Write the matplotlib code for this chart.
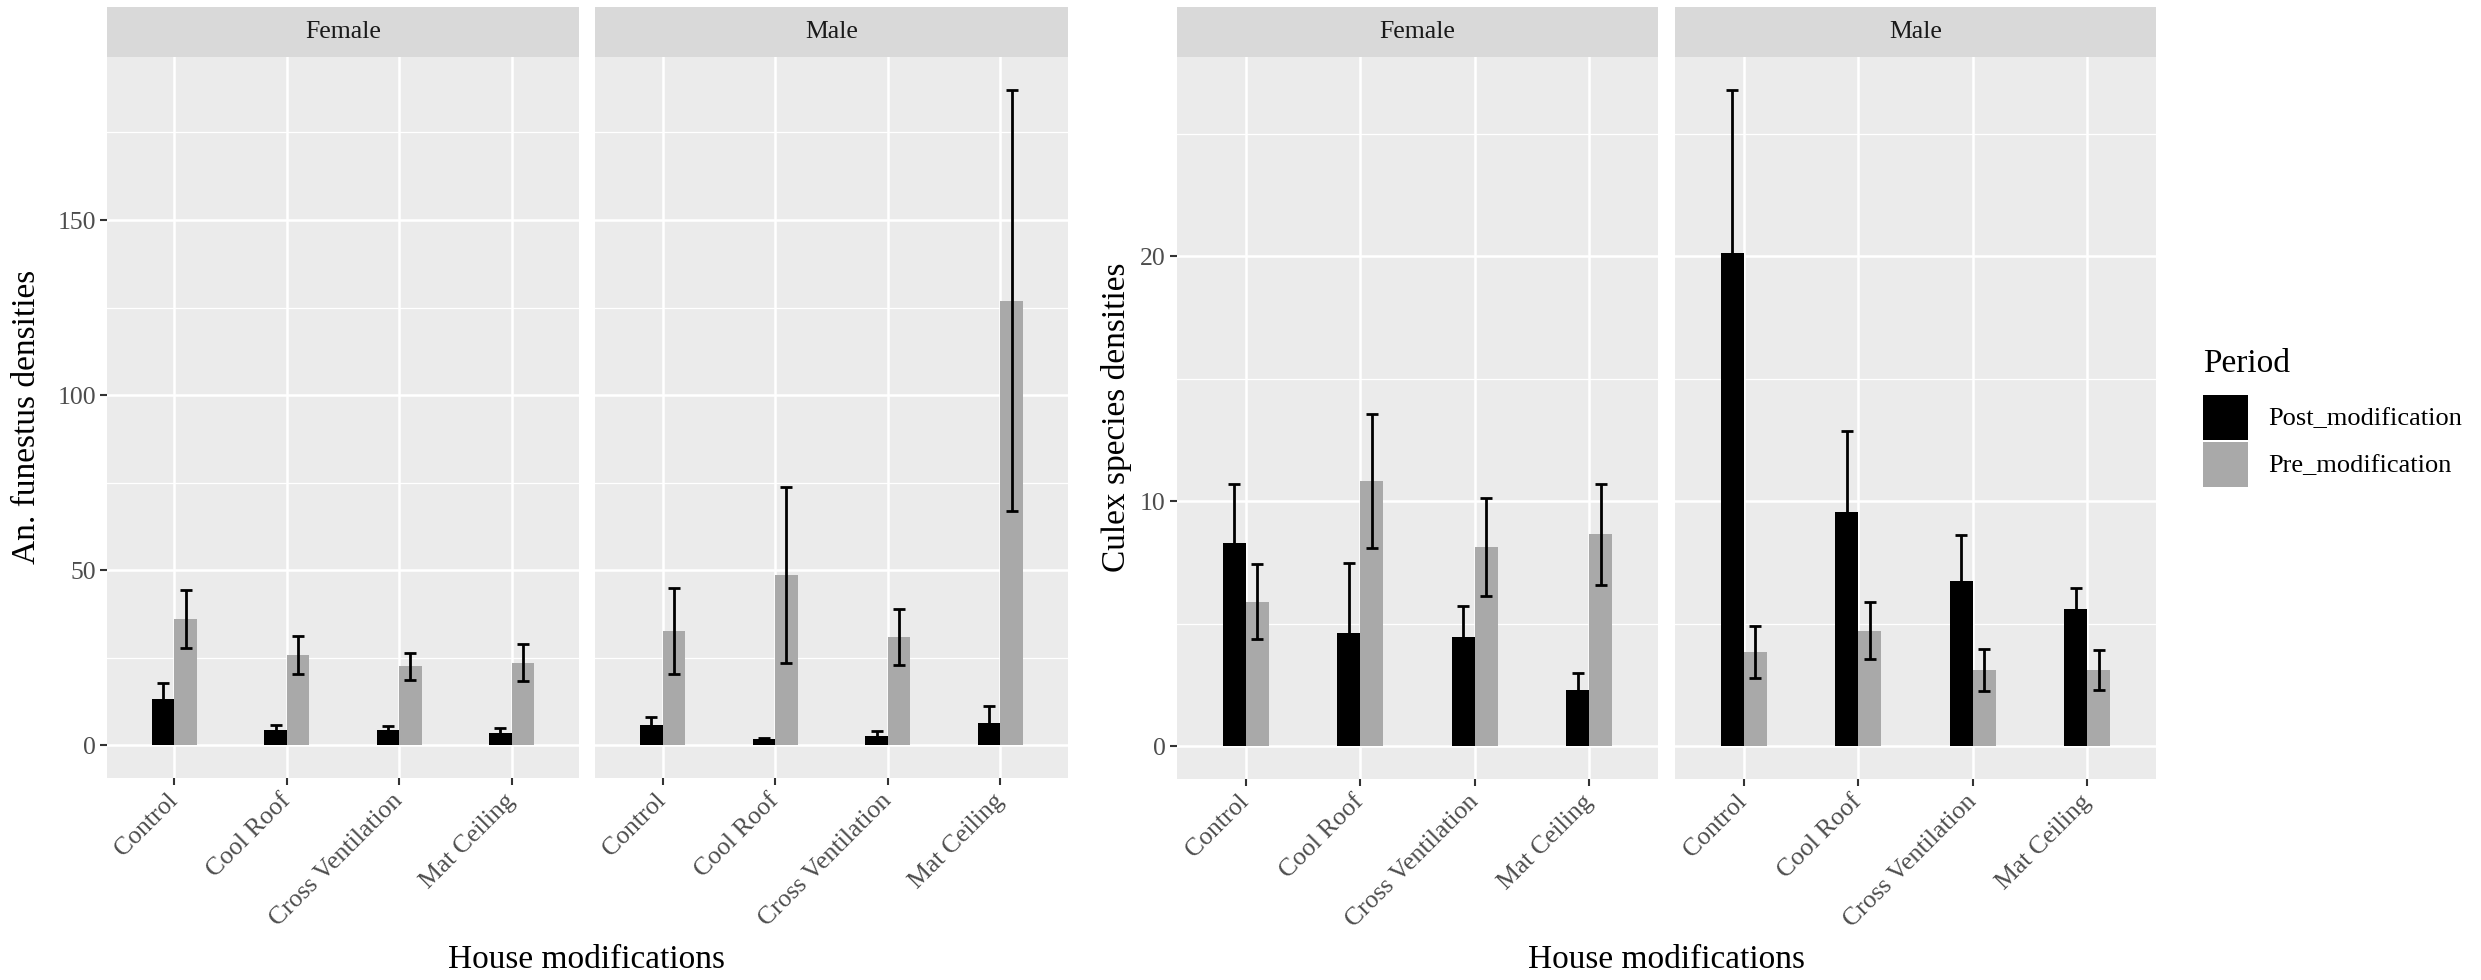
import numpy as np
import matplotlib
matplotlib.use("Agg")
import matplotlib.pyplot as plt
from matplotlib.patches import Rectangle

plt.rcParams["font.family"] = ["Liberation Serif", "DejaVu Serif"]

# ---- data -------------------------------------------------------------
categories = ["Control", "Cool Roof", "Cross Ventilation", "Mat Ceiling"]
sexes = ["Female", "Male"]
periods = ["Post_modification", "Pre_modification"]

# An. funestus densities (mean and standard error)
fun_female_post = [13.1, 4.3, 4.3, 3.6]
fun_female_post_se = [4.6, 1.4, 1.2, 1.4]
fun_female_pre = [36.0, 25.7, 22.5, 23.6]
fun_female_pre_se = [8.3, 5.5, 3.8, 5.3]
fun_male_post = [5.7, 1.7, 2.5, 6.3]
fun_male_post_se = [2.3, 0.4, 1.5, 4.8]
fun_male_pre = [32.6, 48.6, 30.9, 127.0]
fun_male_pre_se = [12.3, 25.2, 7.9, 60.2]

# Culex species densities (mean and standard error)
cx_female_post = [8.28, 4.64, 4.46, 2.30]
cx_female_post_se = [2.42, 2.82, 1.28, 0.68]
cx_female_pre = [5.90, 10.84, 8.15, 8.65]
cx_female_pre_se = [1.53, 2.74, 2.00, 2.07]
cx_male_post = [20.12, 9.55, 6.76, 5.62]
cx_male_post_se = [6.68, 3.32, 1.85, 0.82]
cx_male_pre = [3.85, 4.72, 3.10, 3.10]
cx_male_pre_se = [1.07, 1.15, 0.86, 0.81]

fun_major = [0, 50, 100, 150]
fun_minor = [25, 75, 125, 175]
cx_major = [0, 10, 20]
cx_minor = [5, 15, 25]

# ---- styling ------------------------------------------------------------
W, H = 2481, 980
COL_POST = "#000000"
COL_PRE = "#A9A9A9"
PANEL_BG = "#EBEBEB"
STRIP_BG = "#D9D9D9"
TICK_TXT = "#4D4D4D"
TICK_COL = "#333333"
FS_TICK = 18.5
FS_TITLE = 24
FS_STRIP = 18.5

fig = plt.figure(figsize=(W / 100, H / 100), dpi=100)
fig.patch.set_facecolor("white")


def px_axes(x0, x1, y0, y1, **kw):
    return fig.add_axes([x0 / W, 1 - y1 / H, (x1 - x0) / W, (y1 - y0) / H], **kw)


def draw_panel(x0, x1, y0, y1, post, post_se, pre, pre_se, ylim,
               major, minor, label, show_y):
    ax = px_axes(x0, x1, y0, y1)
    ax.set_facecolor(PANEL_BG)
    for s in ax.spines.values():
        s.set_visible(False)
    x = np.arange(1, len(categories) + 1)
    ax.bar(x - 0.1, post, width=0.2, color=COL_POST, zorder=2)
    ax.bar(x + 0.1, pre, width=0.2, color=COL_PRE, zorder=2)
    ax.errorbar(x - 0.1, post, yerr=post_se, fmt="none", ecolor="black",
                elinewidth=2.0, capsize=4.3, capthick=2.0, zorder=3)
    ax.errorbar(x + 0.1, pre, yerr=pre_se, fmt="none", ecolor="black",
                elinewidth=2.0, capsize=4.3, capthick=2.0, zorder=3)
    ax.set_xlim(0.4, len(categories) + 0.6)
    ax.set_ylim(*ylim)
    ax.set_xticks(x)
    ax.set_xticklabels(categories, rotation=45, ha="right", va="center",
                       rotation_mode="anchor", fontsize=FS_TICK, color=TICK_TXT)
    ax.set_yticks(major)
    ax.set_yticks(minor, minor=True)
    ax.tick_params(axis="x", length=5, width=1.5, color=TICK_COL, pad=9)
    ax.tick_params(axis="y", which="major", length=5, width=1.5,
                   color=TICK_COL, pad=3, labelsize=FS_TICK, labelcolor=TICK_TXT)
    ax.tick_params(axis="y", which="minor", length=0)
    if not show_y:
        ax.tick_params(axis="y", which="major", length=0, labelleft=False)
    ax.grid(which="major", color="white", linewidth=1.8, zorder=0)
    ax.grid(which="minor", axis="y", color="white", linewidth=0.9, zorder=0)
    ax.set_axisbelow(True)

    st = px_axes(x0, x1, 7.5, y0)
    st.set_facecolor(STRIP_BG)
    st.set_xticks([])
    st.set_yticks([])
    for s in st.spines.values():
        s.set_visible(False)
    st.text(0.5, 0.5, label, transform=st.transAxes, ha="center",
            va="center", fontsize=FS_STRIP, color="#1A1A1A")
    return ax


def limits(*pairs):
    top = max(max(np.add(m, s)) for m, s in pairs)
    return (-0.05 * top, 1.05 * top)


fun_lim = limits((fun_female_post, fun_female_post_se), (fun_female_pre, fun_female_pre_se),
                 (fun_male_post, fun_male_post_se), (fun_male_pre, fun_male_pre_se))
cx_lim = limits((cx_female_post, cx_female_post_se), (cx_female_pre, cx_female_pre_se),
                (cx_male_post, cx_male_post_se), (cx_male_pre, cx_male_pre_se))

# An. funestus facets
draw_panel(107, 579, 57, 778, fun_female_post, fun_female_post_se,
           fun_female_pre, fun_female_pre_se, fun_lim, fun_major, fun_minor,
           sexes[0], True)
draw_panel(595, 1068, 57, 778, fun_male_post, fun_male_post_se,
           fun_male_pre, fun_male_pre_se, fun_lim, fun_major, fun_minor,
           sexes[1], False)

# Culex facets
draw_panel(1177, 1658, 57, 779, cx_female_post, cx_female_post_se,
           cx_female_pre, cx_female_pre_se, cx_lim, cx_major, cx_minor,
           sexes[0], True)
draw_panel(1675, 2156, 57, 779, cx_male_post, cx_male_post_se,
           cx_male_pre, cx_male_pre_se, cx_lim, cx_major, cx_minor,
           sexes[1], False)

# axis titles
fig.text(27 / W, 1 - 417 / H, "An. funestus densities", rotation=90,
         ha="center", va="center", fontsize=FS_TITLE)
fig.text(1117 / W, 1 - 417 / H, "Culex species densities", rotation=90,
         ha="center", va="center", fontsize=FS_TITLE)
fig.text(587 / W, 1 - 960 / H, "House modifications", ha="center",
         va="center", fontsize=FS_TITLE)
fig.text(1666 / W, 1 - 960 / H, "House modifications", ha="center",
         va="center", fontsize=FS_TITLE)

# legend
fig.text(2203 / W, 1 - 364 / H, "Period", ha="left", va="center",
         fontsize=FS_TITLE)
key_tops = [395, 442]
for top, col, lab in zip(key_tops, [COL_POST, COL_PRE], periods):
    fig.add_artist(Rectangle((2203 / W, 1 - (top + 45) / H), 45 / W, 45 / H,
                             transform=fig.transFigure, facecolor=col,
                             edgecolor="none"))
    fig.text(2268 / W, 1 - (top + 24) / H, lab, ha="left", va="center",
             fontsize=19)

fig.savefig("out.png", dpi=100)
